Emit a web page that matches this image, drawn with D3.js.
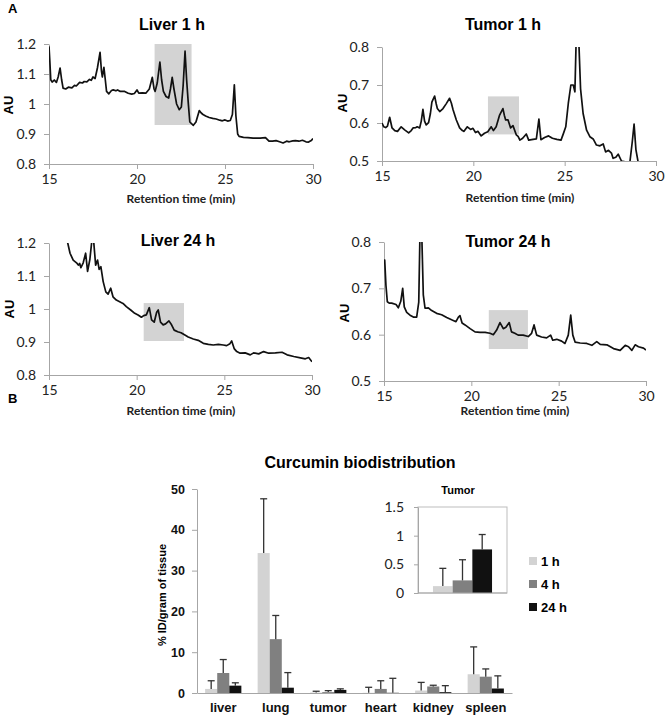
<!DOCTYPE html>
<html>
<head>
<meta charset="utf-8">
<script src="https://cdn.jsdelivr.net/npm/d3@7"></script>
<style>
body { margin: 0; background: #fff; }
svg { font-family: "Liberation Sans", Arial, sans-serif; }
.trace { fill: none; stroke: #111; stroke-width: 1.7px; stroke-linejoin: round; }
.box { fill: #d3d3d3; }
.axis path, .axis line { stroke: #a6a6a6; }
.axis text { font-family: Lato, sans-serif; font-size: 14px; fill: #222; }
.ptitle { font-weight: bold; font-size: 16px; text-anchor: middle; }
.xlab { font-family: Lato, sans-serif; font-weight: bold; font-size: 12px; text-anchor: middle; fill: #222; }
.ylab { font-weight: bold; font-size: 13px; text-anchor: middle; }
.bax text { font-family: "Liberation Sans", Arial, sans-serif; font-weight: bold; font-size: 12.5px; fill: #111; }
.cat text { font-size: 13px; }
</style>
</head>
<body>
<svg id="fig" width="666" height="718"></svg>
<script>
// chromatograms: [retention time (min), AU]
var liver1h = [[15.0,1.192],[15.05,1.14],[15.1,1.081],[15.18,1.073],[15.3,1.08],[15.42,1.072],[15.52,1.09],[15.63,1.12],[15.72,1.08],[15.8,1.053],[15.95,1.05],[16.1,1.056],[16.3,1.054],[16.45,1.062],[16.55,1.06],[16.74,1.072],[16.9,1.07],[17.0,1.075],[17.15,1.074],[17.3,1.082],[17.4,1.079],[17.5,1.09],[17.62,1.085],[17.75,1.12],[17.9,1.172],[17.98,1.11],[18.03,1.09],[18.12,1.122],[18.2,1.08],[18.27,1.042],[18.4,1.034],[18.55,1.045],[18.65,1.047],[18.8,1.044],[18.9,1.047],[19.05,1.042],[19.3,1.042],[19.5,1.036],[19.7,1.033],[19.85,1.035],[20.0,1.047],[20.1,1.036],[20.3,1.037],[20.5,1.036],[20.7,1.05],[20.87,1.089],[20.97,1.05],[21.03,1.042],[21.15,1.07],[21.3,1.14],[21.4,1.08],[21.5,1.042],[21.65,1.025],[21.8,1.02],[21.9,1.05],[22.0,1.089],[22.1,1.05],[22.25,1.0],[22.4,0.981],[22.52,0.99],[22.62,1.06],[22.73,1.176],[22.82,1.08],[22.92,0.998],[23.0,0.94],[23.2,0.929],[23.35,0.94],[23.54,0.978],[23.65,0.97],[23.75,0.965],[23.9,0.96],[24.1,0.955],[24.3,0.952],[24.5,0.95],[24.7,0.946],[24.85,0.944],[25.0,0.947],[25.15,0.943],[25.3,0.945],[25.42,0.965],[25.53,1.064],[25.62,0.96],[25.72,0.9],[25.8,0.892],[26.05,0.889],[26.3,0.888],[26.6,0.886],[27.0,0.886],[27.3,0.888],[27.5,0.876],[27.7,0.876],[27.9,0.878],[28.1,0.874],[28.3,0.87],[28.5,0.876],[28.65,0.874],[28.85,0.877],[29.0,0.878],[29.2,0.876],[29.4,0.879],[29.6,0.874],[29.75,0.873],[29.9,0.878],[30.0,0.885]];

var tumor1h = [[15.0,0.6],[15.1,0.59],[15.2,0.588],[15.3,0.592],[15.42,0.615],[15.55,0.587],[15.7,0.58],[15.85,0.578],[16.05,0.59],[16.24,0.582],[16.46,0.574],[16.6,0.58],[16.7,0.587],[16.85,0.588],[16.93,0.59],[17.06,0.587],[17.15,0.605],[17.24,0.636],[17.33,0.605],[17.42,0.595],[17.55,0.601],[17.65,0.625],[17.73,0.655],[17.88,0.671],[17.97,0.65],[18.03,0.638],[18.16,0.63],[18.34,0.638],[18.52,0.651],[18.7,0.665],[18.8,0.652],[18.89,0.635],[19.07,0.608],[19.25,0.587],[19.4,0.58],[19.49,0.578],[19.67,0.59],[19.85,0.583],[19.98,0.586],[20.12,0.575],[20.25,0.578],[20.43,0.566],[20.61,0.573],[20.79,0.577],[20.98,0.59],[21.1,0.58],[21.25,0.59],[21.43,0.62],[21.62,0.638],[21.7,0.62],[21.77,0.608],[21.9,0.608],[22.04,0.587],[22.17,0.593],[22.35,0.569],[22.45,0.565],[22.55,0.555],[22.7,0.56],[22.9,0.571],[23.03,0.555],[23.27,0.557],[23.45,0.558],[23.59,0.61],[23.7,0.556],[23.9,0.562],[24.12,0.566],[24.33,0.56],[24.57,0.557],[24.8,0.555],[24.93,0.572],[25.06,0.59],[25.2,0.652],[25.34,0.7],[25.47,0.7],[25.56,0.682],[25.65,0.86],[25.74,0.86],[25.87,0.69],[26.01,0.625],[26.2,0.581],[26.38,0.564],[26.56,0.558],[26.74,0.542],[26.93,0.54],[27.11,0.545],[27.24,0.524],[27.4,0.528],[27.56,0.521],[27.65,0.507],[27.8,0.51],[27.93,0.518],[28.11,0.5],[28.38,0.497],[28.57,0.497],[28.7,0.55],[28.8,0.597],[28.9,0.53],[29.03,0.495],[29.3,0.48],[29.6,0.47],[30.0,0.46]];

var liver24h = [[16.06,1.202],[16.2,1.169],[16.38,1.148],[16.5,1.143],[16.57,1.14],[16.67,1.133],[16.75,1.138],[16.82,1.125],[16.95,1.14],[17.09,1.169],[17.2,1.114],[17.33,1.15],[17.43,1.2],[17.54,1.21],[17.66,1.133],[17.77,1.148],[17.86,1.12],[17.96,1.128],[18.09,1.083],[18.24,1.052],[18.37,1.045],[18.52,1.063],[18.65,1.037],[18.84,1.027],[19.03,1.022],[19.22,1.017],[19.41,1.007],[19.66,0.997],[19.89,0.987],[20.08,0.982],[20.27,0.975],[20.4,0.98],[20.55,0.982],[20.72,1.004],[20.85,0.967],[21.0,0.96],[21.14,0.99],[21.23,0.997],[21.36,0.96],[21.51,0.952],[21.65,0.955],[21.84,0.964],[21.99,0.952],[22.14,0.936],[22.34,0.931],[22.53,0.928],[22.75,0.921],[22.94,0.915],[23.23,0.909],[23.51,0.905],[23.8,0.896],[24.09,0.893],[24.37,0.891],[24.66,0.893],[24.94,0.891],[25.13,0.889],[25.32,0.895],[25.42,0.903],[25.56,0.88],[25.71,0.871],[25.9,0.866],[26.19,0.867],[26.48,0.861],[26.67,0.867],[26.96,0.864],[27.24,0.871],[27.53,0.866],[27.91,0.867],[28.29,0.869],[28.58,0.861],[28.96,0.856],[29.34,0.852],[29.62,0.849],[29.81,0.853],[30.0,0.84]];

var tumor24h = [[15.0,0.76],[15.04,0.761],[15.11,0.707],[15.19,0.671],[15.3,0.668],[15.44,0.668],[15.69,0.665],[15.82,0.658],[15.96,0.672],[16.07,0.7],[16.16,0.66],[16.3,0.648],[16.49,0.642],[16.68,0.638],[16.87,0.638],[16.99,0.67],[17.06,0.82],[17.16,0.82],[17.25,0.686],[17.35,0.657],[17.54,0.658],[17.73,0.652],[18.01,0.646],[18.3,0.643],[18.59,0.637],[18.87,0.632],[19.12,0.628],[19.26,0.638],[19.35,0.641],[19.47,0.625],[19.64,0.621],[19.93,0.613],[20.21,0.606],[20.5,0.605],[20.79,0.605],[21.07,0.603],[21.26,0.6],[21.45,0.61],[21.64,0.626],[21.83,0.613],[21.98,0.616],[22.17,0.626],[22.3,0.606],[22.49,0.603],[22.68,0.599],[22.97,0.599],[23.26,0.596],[23.45,0.603],[23.59,0.621],[23.74,0.599],[24.02,0.595],[24.31,0.593],[24.54,0.599],[24.66,0.588],[24.89,0.59],[25.17,0.586],[25.36,0.581],[25.55,0.599],[25.69,0.642],[25.81,0.599],[25.94,0.584],[26.23,0.582],[26.61,0.581],[26.9,0.577],[27.18,0.585],[27.38,0.579],[27.76,0.578],[28.14,0.57],[28.52,0.566],[28.81,0.577],[29.0,0.574],[29.19,0.566],[29.38,0.578],[29.57,0.574],[29.86,0.571],[30.0,0.567]];

// shaded curcumin windows: [t0, t1, au0, au1]
var liver1hBox = [21.0, 23.1, 0.93, 1.2];
var tumor1hBox = [20.8, 22.5, 0.57, 0.67];
var liver24hBox = [20.4, 22.7, 0.903, 1.018];
var tumor24hBox = [21.0, 23.24, 0.569, 0.653];

var xTicks = [15, 20, 25, 30];
var liverTicks = [0.8, 0.9, 1, 1.1, 1.2];
var tumorTicks = [0.5, 0.6, 0.7, 0.8];

// biodistribution (% ID/gram of tissue)
var organs = ["liver", "lung", "tumor", "heart", "kidney", "spleen"];
var hours = ["1 h", "4 h", "24 h"];
var mean1h = [1.0, 34.3, 0.12, 0.05, 0.6, 4.6];
var mean4h = [4.9, 13.2, 0.22, 1.0, 1.6, 4.0];
var mean24h = [1.8, 1.3, 0.76, 0.05, 0.2, 1.1];
var sd1h = [2.0, 13.3, 0.31, 1.35, 2.0, 6.7];
var sd4h = [3.3, 5.8, 0.36, 2.0, 0.3, 1.9];
var sd24h = [0.7, 3.7, 0.26, 3.55, 1.6, 3.1];
var barTicks = [0, 10, 20, 30, 40, 50];
var insetTicks = [0, 0.5, 1, 1.5];
var hourColors = ["#d3d3d3", "#808080", "#111111"];

var svg = d3.select("#fig");

svg.append("text").attr("x", 8).attr("y", 13).attr("font-weight", "bold").attr("font-size", 13).text("A");
svg.append("text").attr("x", 8).attr("y", 403).attr("font-weight", "bold").attr("font-size", 13).text("B");

var fmt = function(d){ return +d.toFixed(1); };

function chrom(id, data, box, yDom, yTicks, xr, yr, title, lab) {
    var x = d3.scaleLinear().domain([15, 30]).range(xr);
    var y = d3.scaleLinear().domain(yDom).range(yr);
    var g = svg.append("g");

    g.append("clipPath").attr("id", id)
      .append("rect")
      .attr("x", xr[0]).attr("y", yr[1])
      .attr("width", xr[1] - xr[0]).attr("height", yr[0] - yr[1]);

    g.append("rect").attr("class", "box")
      .attr("x", x(box[0])).attr("y", y(box[3]))
      .attr("width", x(box[1]) - x(box[0]))
      .attr("height", y(box[2]) - y(box[3]));

    g.append("g").attr("class", "axis")
      .attr("transform", "translate(0," + yr[0] + ")")
      .call(d3.axisBottom(x).tickValues(xTicks).tickSize(5).tickPadding(5).tickSizeOuter(0));

    g.append("g").attr("class", "axis")
      .attr("transform", "translate(" + xr[0] + ",0)")
      .call(d3.axisLeft(y).tickValues(yTicks).tickFormat(fmt).tickSize(5).tickPadding(8).tickSizeOuter(0));

    var line = d3.line()
        .x(function(d){ return x(d[0]); })
        .y(function(d){ return y(d[1]); });

    g.append("path").datum(data)
      .attr("class", "trace")
      .attr("clip-path", "url(#" + id + ")")
      .attr("d", line);

    g.append("text").attr("class", "ptitle")
      .attr("x", title[0]).attr("y", title[1]).text(title[2]);

    g.append("text").attr("class", "xlab")
      .attr("x", lab[0]).attr("y", lab[1]).text("Retention time (min)");

    g.append("text").attr("class", "ylab")
      .attr("transform", "translate(" + lab[2] + "," + lab[3] + ") rotate(-90)")
      .text("AU");
}

chrom("c1", liver1h, liver1hBox, [0.8, 1.2], liverTicks, [49, 313], [164, 44], [172, 30, "Liver 1 h"], [181, 203, 13, 105]);
chrom("c2", tumor1h, tumor1hBox, [0.5, 0.8], tumorTicks, [382, 656], [161, 47], [503, 30, "Tumor 1 h"], [520, 202, 347, 103]);
chrom("c3", liver24h, liver24hBox, [0.8, 1.2], liverTicks, [49, 312], [375, 243], [178, 246, "Liver 24 h"], [181, 415, 14, 309]);
chrom("c4", tumor24h, tumor24hBox, [0.5, 0.8], tumorTicks, [384, 646], [381, 242], [508, 247, "Tumor 24 h"], [515, 415, 349, 313]);

// ---- B: bar chart
var means = [mean1h, mean4h, mean24h];
var sds = [sd1h, sd4h, sd24h];
var bars = [];
organs.forEach(function(o, i){
    hours.forEach(function(h, j){
        bars.push({organ: o, hour: h, k: j, v: means[j][i], e: sds[j][i]});
    });
});

var bx = d3.scaleBand().domain(organs).range([197, 512]).paddingInner(0.31).paddingOuter(0.155);
var bh = d3.scaleBand().domain(hours).range([0, bx.bandwidth()]);
var by = d3.scaleLinear().domain([0, 50]).range([693, 489]);

svg.append("text").attr("class", "ptitle")
  .attr("x", 360).attr("y", 468).text("Curcumin biodistribution");

svg.append("g").attr("class", "axis bax")
  .attr("transform", "translate(197,0)")
  .call(d3.axisLeft(by).tickValues(barTicks).tickSize(5).tickPadding(7).tickSizeOuter(0));

svg.append("g").selectAll("rect").data(bars).join("rect")
  .attr("x", function(d){ return bx(d.organ) + bh(d.hour); })
  .attr("y", function(d){ return by(d.v); })
  .attr("width", bh.bandwidth())
  .attr("height", function(d){ return by(0) - by(d.v); })
  .attr("fill", function(d){ return hourColors[d.k]; });

function errBars(sel, data, xf, w, yf, cap) {
    var eg = sel.append("g").attr("stroke", "#333").attr("stroke-width", 1.3);
    eg.selectAll(".ev").data(data).join("line").attr("class", "ev")
      .attr("x1", function(d){ return xf(d) + w / 2; })
      .attr("x2", function(d){ return xf(d) + w / 2; })
      .attr("y1", function(d){ return yf(d.v); })
      .attr("y2", function(d){ return yf(d.v + d.e); });
    eg.selectAll(".ec").data(data).join("line").attr("class", "ec")
      .attr("x1", function(d){ return xf(d) + w / 2 - cap; })
      .attr("x2", function(d){ return xf(d) + w / 2 + cap; })
      .attr("y1", function(d){ return yf(d.v + d.e); })
      .attr("y2", function(d){ return yf(d.v + d.e); });
}
errBars(svg, bars, function(d){ return bx(d.organ) + bh(d.hour); }, bh.bandwidth(), by, 3.5);

svg.append("g").attr("class", "axis bax cat")
  .attr("transform", "translate(0,693)")
  .call(d3.axisBottom(bx).tickSize(0).tickPadding(10).tickSizeOuter(0));

svg.append("text").attr("font-weight", "bold").attr("font-size", 11).attr("text-anchor", "middle")
  .attr("transform", "translate(166,595) rotate(-90)")
  .text("% ID/gram of tissue");

// inset: tumor only
var tumorBars = bars.filter(function(d){ return d.organ === "tumor"; });
var ix = d3.scaleBand().domain(hours).range([418, 507]).paddingInner(0).paddingOuter(0.76);
var iy = d3.scaleLinear().domain([0, 1.5]).range([593, 507]);

svg.append("rect").attr("x", 418).attr("y", 507).attr("width", 89).attr("height", 86)
  .attr("fill", "none").attr("stroke", "#bdbdbd");

svg.append("g").attr("class", "axis")
  .attr("transform", "translate(418,0)")
  .call(d3.axisLeft(iy).tickValues(insetTicks).tickFormat(fmt).tickSize(4).tickPadding(10).tickSizeOuter(0));

svg.append("g").selectAll("rect").data(tumorBars).join("rect")
  .attr("x", function(d){ return ix(d.hour); })
  .attr("y", function(d){ return iy(d.v); })
  .attr("width", ix.bandwidth())
  .attr("height", function(d){ return iy(0) - iy(d.v); })
  .attr("fill", function(d){ return hourColors[d.k]; });

errBars(svg, tumorBars, function(d){ return ix(d.hour); }, ix.bandwidth(), iy, 3.5);

svg.append("line").attr("x1", 418).attr("x2", 507).attr("y1", 593).attr("y2", 593).attr("stroke", "#a6a6a6");

svg.append("text").attr("font-weight", "bold").attr("font-size", 11).attr("text-anchor", "middle")
  .attr("x", 458).attr("y", 494).text("Tumor");

// legend
var leg = svg.append("g").selectAll("g").data(hours).join("g")
  .attr("transform", function(d, i){ return "translate(529," + [557, 580, 603][i] + ")"; });
leg.append("rect").attr("width", 8).attr("height", 8)
  .attr("fill", function(d, i){ return hourColors[i]; });
leg.append("text").attr("x", 12).attr("y", 9).attr("font-weight", "bold").attr("font-size", 13)
  .text(function(d){ return d; });
</script>
</body>
</html>
